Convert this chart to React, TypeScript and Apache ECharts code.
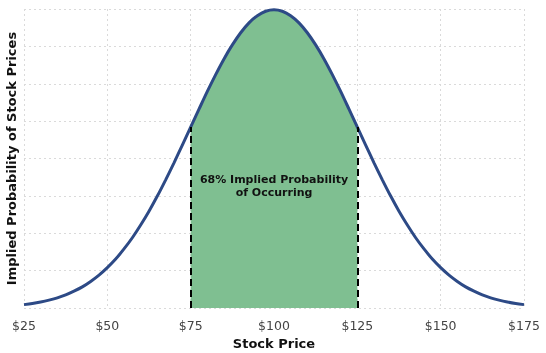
import React, { useEffect, useRef } from "react";
import * as echarts from "echarts";

// Stock prices (x) and implied probability density (y)
const prices = [
  25, 27.5, 30, 32.5, 35, 37.5, 40, 42.5, 45, 47.5, 50, 52.5, 55, 57.5, 60, 62.5,
  65, 67.5, 70, 72.5, 75, 77.5, 80, 82.5, 85, 87.5, 90, 92.5, 95, 97.5, 100,
  102.5, 105, 107.5, 110, 112.5, 115, 117.5, 120, 122.5, 125, 127.5, 130, 132.5,
  135, 137.5, 140, 142.5, 145, 147.5, 150, 152.5, 155, 157.5, 160, 162.5, 165,
  167.5, 170, 172.5, 175,
];
const density = [
  0.00018, 0.00024, 0.00032, 0.00042, 0.00054, 0.0007, 0.0009, 0.00113, 0.00142,
  0.00176, 0.00216, 0.00262, 0.00316, 0.00376, 0.00444, 0.00518, 0.00599, 0.00686,
  0.00777, 0.00872, 0.00968, 0.01064, 0.01159, 0.01249, 0.01333, 0.01408, 0.01473,
  0.01526, 0.01564, 0.01588, 0.01596,
  0.01588, 0.01564, 0.01526, 0.01473, 0.01408, 0.01333, 0.01249, 0.01159, 0.01064,
  0.00968, 0.00872, 0.00777, 0.00686, 0.00599, 0.00518, 0.00444, 0.00376, 0.00316,
  0.00262, 0.00216, 0.00176, 0.00142, 0.00113, 0.0009, 0.0007, 0.00054, 0.00042,
  0.00032, 0.00024, 0.00018,
];
const rangeLow = 75;
const rangeHigh = 125;
const annotation = "68% Implied Probability\nof Occurring";
const annotationAt = [100, 0.00652];
const xLabelTitle = "Stock Price";
const yLabelTitle = "Implied Probability of Stock Prices";

export default function App() {
  const ref = useRef<HTMLDivElement>(null);
  useEffect(() => {
    if (!ref.current) return;
    const chart = echarts.init(ref.current, null, { renderer: "svg" });
    const curve = prices.map((p, i) => [p, density[i]]);
    const band = curve.filter((d) => d[0] >= rangeLow && d[0] <= rangeHigh);
    const lowVal = density[prices.indexOf(rangeLow)];
    const highVal = density[prices.indexOf(rangeHigh)];
    const font = "DejaVu Sans";
    const gridLine = { show: true, lineStyle: { color: "#dadada", type: [2, 3], width: 1 } };
    chart.setOption({
      animation: false,
      textStyle: { fontFamily: font },
      grid: { left: 24, right: 22, top: 9, bottom: 45, outerBoundsMode: "none", containLabel: false },
      xAxis: {
        type: "value",
        min: 25,
        max: 175,
        interval: 25,
        name: xLabelTitle,
        nameLocation: "middle",
        nameGap: 29,
        nameTextStyle: { fontFamily: font, fontWeight: "bold", fontSize: 13, color: "#111" },
        axisLine: { show: false },
        axisTick: { show: false },
        axisLabel: {
          formatter: (v: number) => "$" + v,
          fontFamily: font,
          fontSize: 12.5,
          color: "#444",
          margin: 11,
        },
        splitLine: gridLine,
      },
      yAxis: {
        type: "value",
        min: 0,
        max: 0.016,
        interval: 0.002,
        name: yLabelTitle,
        nameLocation: "middle",
        nameGap: 6,
        nameRotate: 90,
        nameTextStyle: { fontFamily: font, fontWeight: "bold", fontSize: 13, color: "#111" },
        axisLine: { show: false },
        axisTick: { show: false },
        axisLabel: { show: false },
        splitLine: gridLine,
      },
      series: [
        {
          type: "line",
          data: band,
          smooth: 0.3,
          symbol: "none",
          lineStyle: { width: 0 },
          areaStyle: { color: "#7fbf91", opacity: 1 },
          z: 1,
          markLine: {
            silent: true,
            symbol: "none",
            lineStyle: { color: "#000", width: 2, type: [7, 4] },
            label: { show: false },
            data: [
              [{ coord: [rangeLow, 0] }, { coord: [rangeLow, lowVal] }],
              [{ coord: [rangeHigh, 0] }, { coord: [rangeHigh, highVal] }],
            ],
          },
          markPoint: {
            symbol: "circle",
            symbolSize: 0,
            label: {
              show: true,
              position: "inside",
              formatter: annotation,
              fontFamily: font,
              fontWeight: "bold",
              fontSize: 11,
              lineHeight: 13,
              color: "#111",
              align: "center",
            },
            data: [{ coord: annotationAt }],
          },
        },
        {
          type: "line",
          data: curve,
          smooth: 0.3,
          symbol: "none",
          lineStyle: { color: "#2d4a86", width: 3 },
          z: 3,
        },
      ],
    });
    return () => chart.dispose();
  }, []);
  return (
    <div
      ref={ref}
      style={{ position: "fixed", left: 0, top: 0, width: 546, height: 353 }}
    />
  );
}
